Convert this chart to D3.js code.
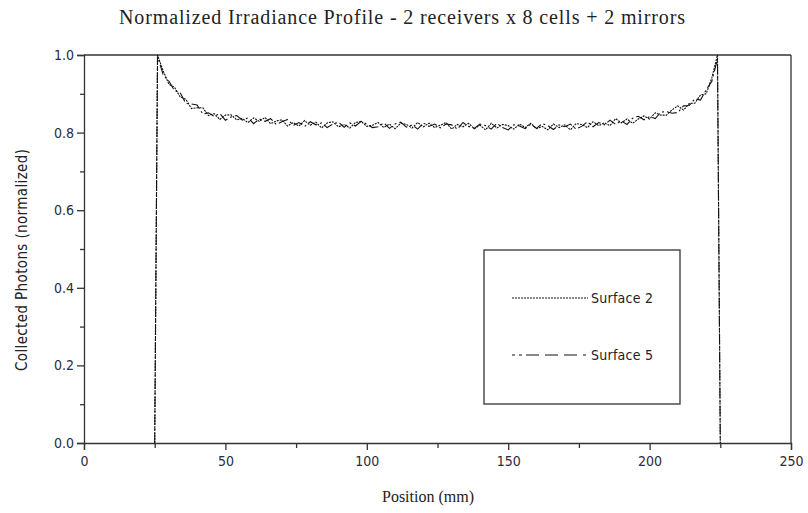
<!DOCTYPE html>
<html>
<head>
<meta charset="utf-8">
<script src="https://cdn.jsdelivr.net/npm/d3@7"></script>
<style>
  body { margin: 0; background: #fff; }
  #chart svg { display: block; }
</style>
</head>
<body>
<div id="chart"></div>
<script>
(function() {

    // positions (mm): edge of receiver, then 2 mm bins, then the other edge
    const positions = [25].concat(d3.range(26, 225, 2), [225]);

    const surface2 = [0,
        1.000, 0.959, 0.925, 0.917, 0.892, 0.886, 0.862, 0.864, 0.864, 0.844,
        0.849, 0.834, 0.845, 0.846, 0.833, 0.836, 0.826, 0.838, 0.829, 0.839,
        0.823, 0.830, 0.833, 0.817, 0.826, 0.817, 0.831, 0.819, 0.827, 0.812,
        0.825, 0.828, 0.815, 0.821, 0.812, 0.826, 0.829, 0.816, 0.819, 0.826,
        0.813, 0.822, 0.810, 0.824, 0.821, 0.812, 0.826, 0.815, 0.824, 0.813,
        0.819, 0.826, 0.809, 0.821, 0.815, 0.824, 0.810, 0.819, 0.807, 0.824,
        0.812, 0.821, 0.818, 0.809, 0.822, 0.813, 0.824, 0.810, 0.816, 0.807,
        0.822, 0.813, 0.820, 0.807, 0.823, 0.821, 0.813, 0.828, 0.818, 0.825,
        0.818, 0.836, 0.825, 0.835, 0.824, 0.835, 0.843, 0.835, 0.851, 0.845,
        0.845, 0.859, 0.869, 0.858, 0.875, 0.876, 0.897, 0.900, 0.941, 1.000,
        0];

    const surface5 = [0,
        0.997, 0.949, 0.933, 0.908, 0.903, 0.875, 0.874, 0.871, 0.848, 0.851,
        0.842, 0.849, 0.832, 0.840, 0.844, 0.832, 0.838, 0.823, 0.835, 0.829,
        0.836, 0.821, 0.828, 0.834, 0.819, 0.826, 0.816, 0.828, 0.820, 0.825,
        0.813, 0.822, 0.827, 0.814, 0.825, 0.817, 0.829, 0.822, 0.813, 0.815,
        0.825, 0.811, 0.822, 0.827, 0.814, 0.820, 0.809, 0.825, 0.816, 0.822,
        0.812, 0.822, 0.820, 0.809, 0.826, 0.816, 0.811, 0.822, 0.818, 0.809,
        0.824, 0.813, 0.807, 0.820, 0.817, 0.810, 0.822, 0.811, 0.823, 0.818,
        0.808, 0.820, 0.815, 0.822, 0.809, 0.816, 0.828, 0.815, 0.826, 0.820,
        0.832, 0.821, 0.830, 0.821, 0.837, 0.842, 0.833, 0.841, 0.836, 0.853,
        0.854, 0.850, 0.852, 0.869, 0.870, 0.887, 0.884, 0.910, 0.932, 0.990,
        0];

    const seriesNames = ["Surface 2", "Surface 5"];
    const xTicks = [0, 50, 100, 150, 200, 250];
    const xMinorTicks = [25, 75, 125, 175, 225];
    const yTicks = [0, 0.2, 0.4, 0.6, 0.8, 1.0];
    const yMinorTicks = [0.1, 0.3, 0.5, 0.7, 0.9];

    const W = 808, H = 513;
    const margin = {top: 55, right: 17, bottom: 70, left: 84};
    const width = W - margin.left - margin.right;
    const height = H - margin.top - margin.bottom;

    const svg = d3.select("#chart").append("svg")
        .attr("width", W)
        .attr("height", H);

    const g = svg.append("g")
        .attr("transform", "translate(" + margin.left + "," + margin.top + ")");

    const x = d3.scaleLinear().domain([0, 250]).range([0, width]);
    const y = d3.scaleLinear().domain([0, 1]).range([height, 0]);

    const axisColor = "#333";
    const tickFont = "'DejaVu Sans Condensed', 'DejaVu Sans', sans-serif";

    // frame (top + right)
    g.append("line").attr("x1", 0).attr("x2", width).attr("y1", 0).attr("y2", 0)
        .attr("stroke", axisColor).attr("stroke-width", 1.3);
    g.append("line").attr("x1", width).attr("x2", width).attr("y1", 0).attr("y2", height)
        .attr("stroke", axisColor).attr("stroke-width", 1.3);

    // axes
    g.append("g")
        .attr("transform", "translate(0," + height + ")")
        .call(d3.axisBottom(x).tickValues(xTicks).tickFormat(d3.format("d"))
              .tickSizeOuter(0).tickSize(7).tickPadding(6));
    g.append("g")
        .attr("transform", "translate(0," + height + ")")
        .call(d3.axisBottom(x).tickValues(xMinorTicks).tickFormat("").tickSize(5).tickSizeOuter(0))
        .select(".domain").remove();

    g.append("g")
        .call(d3.axisLeft(y).tickValues(yTicks).tickFormat(d3.format(".1f"))
              .tickSizeOuter(0).tickSize(7).tickPadding(3));
    g.append("g")
        .call(d3.axisLeft(y).tickValues(yMinorTicks).tickFormat("").tickSize(4).tickSizeOuter(0))
        .select(".domain").remove();

    g.selectAll(".domain, .tick line")
        .attr("stroke", axisColor).attr("stroke-width", 1.3);
    g.selectAll(".tick text")
        .attr("fill", "#2b2b3a")
        .style("font-family", tickFont)
        .style("font-size", "14px");

    // series
    const line = d3.line()
        .x((d, i) => x(positions[i]))
        .y(d => y(d));

    g.append("path")
        .datum(surface5)
        .attr("fill", "none")
        .attr("stroke", "#111")
        .attr("stroke-width", 1.1)
        .attr("stroke-dasharray", "10,3,2,3")
        .attr("d", line);

    g.append("path")
        .datum(surface2)
        .attr("fill", "none")
        .attr("stroke", "#111")
        .attr("stroke-width", 1.1)
        .attr("stroke-dasharray", "2,1")
        .attr("d", line);

    // legend
    const legend = svg.append("g").attr("transform", "translate(484,250)");
    legend.append("rect")
        .attr("width", 196).attr("height", 154)
        .attr("fill", "#fff").attr("stroke", axisColor).attr("stroke-width", 1.3);

    const dashes = ["2,1", "3,4,3,4,13,6,13,6,13,6"];
    seriesNames.forEach(function(name, i) {
        const ly = 48 + i * 57;
        legend.append("line")
            .attr("x1", 28).attr("x2", 104).attr("y1", ly).attr("y2", ly)
            .attr("stroke", "#111").attr("stroke-width", 1)
            .attr("stroke-dasharray", dashes[i]);
        legend.append("text")
            .attr("x", 107).attr("y", ly + 5)
            .attr("fill", "#222")
            .style("font-family", tickFont)
            .style("font-size", "14px")
            .attr("textLength", 62)
            .text(name);
    });

    // titles
    svg.append("text")
        .attr("x", 402).attr("y", 24)
        .attr("text-anchor", "middle")
        .attr("fill", "#222")
        .style("font-family", "'Liberation Serif', serif")
        .style("font-size", "20px")
        .attr("textLength", 566)
        .text("Normalized Irradiance Profile - 2 receivers x 8 cells + 2 mirrors");

    svg.append("text")
        .attr("x", 428).attr("y", 502)
        .attr("text-anchor", "middle")
        .attr("fill", "#222")
        .style("font-family", "'Liberation Serif', serif")
        .style("font-size", "16px")
        .text("Position (mm)");

    svg.append("text")
        .attr("transform", "translate(27,260) rotate(-90)")
        .attr("text-anchor", "middle")
        .attr("fill", "#222")
        .style("font-family", tickFont)
        .style("font-size", "15px")
        .attr("textLength", 222)
        .text("Collected Photons (normalized)");

})();
</script>
</body>
</html>
